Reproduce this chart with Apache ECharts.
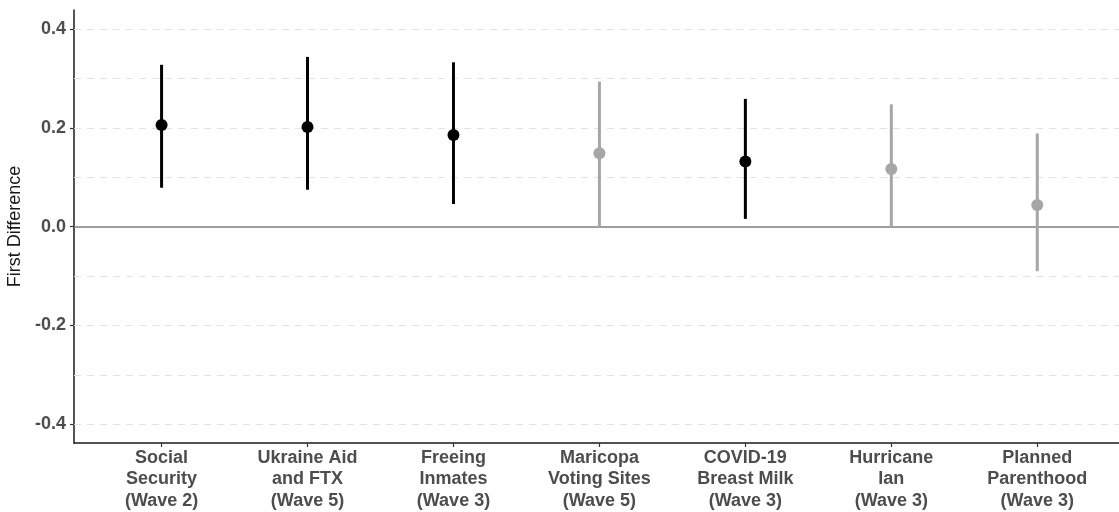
<!DOCTYPE html>
<html>
<head>
<meta charset="utf-8">
<script src="https://cdn.jsdelivr.net/npm/echarts@6/dist/echarts.min.js"></script>
<style>
html,body{margin:0;padding:0;background:#fff;}
#chart{width:1119px;height:512px;}
</style>
</head>
<body>
<div id="chart"></div>
<script>
const categories = [
  'Social\nSecurity\n(Wave 2)',
  'Ukraine Aid\nand FTX\n(Wave 5)',
  'Freeing\nInmates\n(Wave 3)',
  'Maricopa\nVoting Sites\n(Wave 5)',
  'COVID-19\nBreast Milk\n(Wave 3)',
  'Hurricane\nIan\n(Wave 3)',
  'Planned\nParenthood\n(Wave 3)'
];
const estimates = [0.206, 0.202, 0.186, 0.149, 0.132, 0.117, 0.044];
const lower     = [0.079, 0.075, 0.046, 0.000, 0.016, 0.000, -0.090];
const upper     = [0.328, 0.344, 0.333, 0.294, 0.259, 0.248, 0.189];
const significant = [true, true, true, false, true, false, false];
const yTicks = [-0.4, -0.2, 0, 0.2, 0.4];
const gridValues = [-0.4, -0.3, -0.2, -0.1, 0.1, 0.2, 0.3, 0.4];
const yAxisTitle = 'First Difference';

const positions = categories.map((c, i) => i + 1);
const sigColor = '#000000';
const nsColor = '#a6a6a6';

const chart = echarts.init(document.getElementById('chart'), null, {renderer: 'canvas'});
const font = '"Liberation Sans", Arial, Helvetica, sans-serif';

chart.setOption({
  animation: false,
  backgroundColor: '#ffffff',
  grid: {left: 74, right: 0, top: 10, bottom: 69, containLabel: false, outerBoundsMode: 'none'},
  xAxis: {
    type: 'value',
    min: 0.4,
    max: 7.56,
    axisLine: {show: true, onZero: false, lineStyle: {color: '#1a1a1a', width: 1.5}},
    axisTick: {show: true, length: 4, customValues: positions, lineStyle: {color: '#333', width: 1.2}},
    splitLine: {show: false},
    axisLabel: {
      customValues: positions,
      formatter: v => categories[Math.round(v) - 1] || '',
      color: '#4d4d4d', fontWeight: 'bold', fontSize: 18, lineHeight: 21.5,
      fontFamily: font, margin: 4, align: 'center'
    }
  },
  yAxis: {
    type: 'value',
    min: -0.438,
    max: 0.439,
    name: yAxisTitle,
    nameLocation: 'middle',
    nameGap: 43,
    nameTextStyle: {color: '#1a1a1a', fontSize: 18, fontFamily: font},
    axisLine: {show: true, lineStyle: {color: '#1a1a1a', width: 1.5}},
    axisTick: {show: true, length: 4, customValues: yTicks, lineStyle: {color: '#333', width: 1.2}},
    splitLine: {show: false},
    axisLabel: {
      customValues: yTicks,
      formatter: v => (Math.abs(v) < 1e-9 ? 0 : v).toFixed(1),
      color: '#4d4d4d', fontWeight: 'bold', fontSize: 18, fontFamily: font, margin: 8
    }
  },
  series: [
    {
      type: 'line', data: [], silent: true, z: 1, zlevel: 0,
      markLine: {
        silent: true, symbol: 'none', animation: false, z: 1,
        label: {show: false},
        lineStyle: {color: '#e3e3e3', type: [7, 6], width: 1},
        data: gridValues.map(v => ({yAxis: v}))
      }
    },
    {
      type: 'line', data: [], silent: true, z: 2,
      markLine: {
        silent: true, symbol: 'none', animation: false, z: 2,
        label: {show: false},
        lineStyle: {color: '#7f7f7f', type: 'solid', width: 1.5},
        data: [{yAxis: 0}]
      }
    },
    {
      type: 'custom', z: 6,
      data: positions.map((x, i) => [x, lower[i], upper[i], significant[i] ? 1 : 0]),
      renderItem: function (params, api) {
        const x = api.value(0);
        const p1 = api.coord([x, api.value(1)]);
        const p2 = api.coord([x, api.value(2)]);
        return {
          type: 'line',
          shape: {x1: p1[0], y1: p1[1], x2: p2[0], y2: p2[1]},
          style: {stroke: api.value(3) ? sigColor : nsColor, lineWidth: 3}
        };
      }
    },
    {
      type: 'scatter', z: 10,
      symbol: 'circle', symbolSize: 12,
      data: positions.map((x, i) => ({
        value: [x, estimates[i]],
        itemStyle: {color: significant[i] ? sigColor : nsColor, opacity: 1}
      }))
    }
  ]
});
</script>
</body>
</html>
